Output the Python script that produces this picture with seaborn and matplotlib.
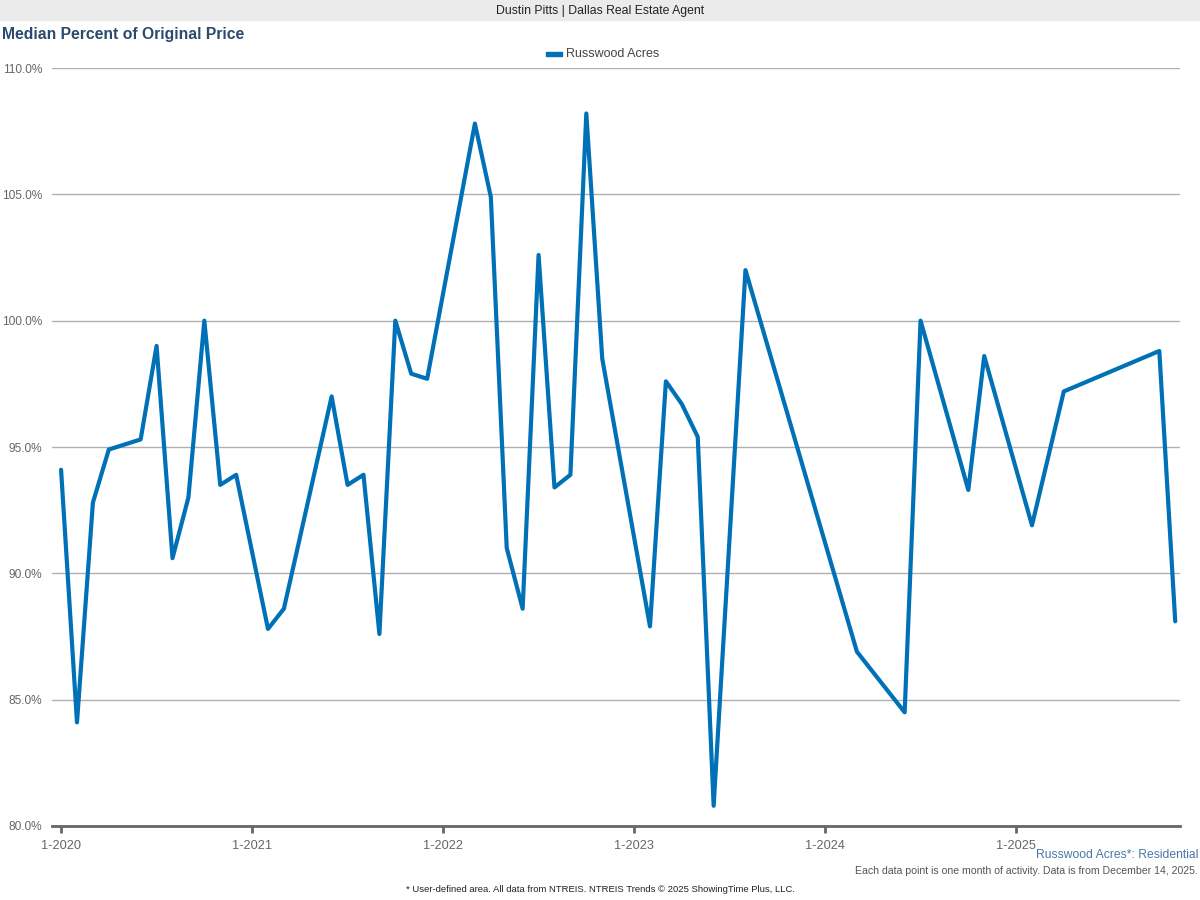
import pandas as pd
import matplotlib.pyplot as plt
import seaborn as sns

# months since 1-2020 that have a value, and the value for that month
month_idx = [0, 1, 2, 3, 5, 6, 7, 8, 9, 10, 11,
             13, 14, 17, 18, 19, 20, 21, 22, 23,
             26, 27, 28, 29, 30, 31, 32, 33, 34,
             37, 38, 39, 40, 41, 43,
             50, 53, 54, 57, 58,
             61, 63, 69, 70]
pct_orig = [94.1, 84.1, 92.8, 94.9, 95.3, 99.0, 90.6, 93.0, 100.0, 93.5, 93.9,
            87.8, 88.6, 97.0, 93.5, 93.9, 87.6, 100.0, 97.9, 97.7,
            107.8, 104.9, 91.0, 88.6, 102.6, 93.4, 93.9, 108.2, 98.5,
            87.9, 97.6, 96.7, 95.4, 80.8, 102.0,
            86.9, 84.5, 100.0, 93.3, 98.6,
            91.9, 97.2, 98.8, 88.1]
year_ticks = [0, 12, 24, 36, 48, 60]
year_labels = ["1-2020", "1-2021", "1-2022", "1-2023", "1-2024", "1-2025"]
y_ticks = [80, 85, 90, 95, 100, 105, 110]

df = pd.DataFrame({"month": month_idx, "pct": pct_orig})

sns.set_style("white")
plt.rcParams["font.family"] = ["Liberation Sans", "DejaVu Sans"]

line_color = "#0071b6"
fig = plt.figure(figsize=(12, 9), dpi=100)
ax = fig.add_axes([52 / 1200, 1 - 826 / 900, 1128 / 1200, 758 / 900])

sns.lineplot(data=df, x="month", y="pct", ax=ax, color=line_color, linewidth=3.0)

ax.set_xlim(-0.57, 70.3)
ax.set_ylim(80, 110)
ax.set_yticks(y_ticks)
ax.set_yticklabels([f"{v:.1f}%" for v in y_ticks])
ax.set_xticks(year_ticks)
ax.set_xticklabels(year_labels)
ax.grid(axis="y", color="#b0b0b0", linewidth=1)
ax.set_axisbelow(True)
ax.set_xlabel("")
ax.set_ylabel("")
for s in ["top", "right", "left"]:
    ax.spines[s].set_visible(False)
ax.spines["bottom"].set_color("#666666")
ax.spines["bottom"].set_linewidth(2)
ax.tick_params(axis="x", colors="#666666", labelsize=9.2, length=5, width=2,
               direction="out", bottom=True, pad=5)
ax.tick_params(axis="y", colors="#666666", labelsize=8.6, length=0, pad=7)

# header bar
fig.patches.append(plt.Rectangle((0, 1 - 20 / 900), 1, 20 / 900, transform=fig.transFigure,
                                 color="#ebebeb", zorder=0))
fig.text(0.5, 1 - 11 / 900, "Dustin Pitts | Dallas Real Estate Agent", ha="center", va="center",
         fontsize=8.8, color="#222222")
fig.text(2 / 1200, 1 - 35 / 900, "Median Percent of Original Price", ha="left", va="center",
         fontsize=11.3, fontweight="bold", color="#2c4a6e")

# legend
fig.patches.append(plt.Rectangle((546 / 1200, 1 - 56 / 900), 16 / 1200, 4 / 900,
                                 transform=fig.transFigure, color=line_color))
fig.text(566 / 1200, 1 - 54 / 900, "Russwood Acres", ha="left", va="center",
         fontsize=9, color="#444444")

# footer
fig.text(1198 / 1200, 1 - 855 / 900, "Russwood Acres*: Residential", ha="right", va="center",
         fontsize=8.7, color="#4a76a8")
fig.text(1198 / 1200, 1 - 871 / 900,
         "Each data point is one month of activity. Data is from December 14, 2025.",
         ha="right", va="center", fontsize=7.6, color="#555555")
fig.text(0.5, 1 - 889 / 900,
         "* User-defined area. All data from NTREIS. NTREIS Trends \u00a9 2025 ShowingTime Plus, LLC.",
         ha="center", va="center", fontsize=6.8, color="#222222")

fig.savefig("out.png", dpi=100)
plt.close(fig)
